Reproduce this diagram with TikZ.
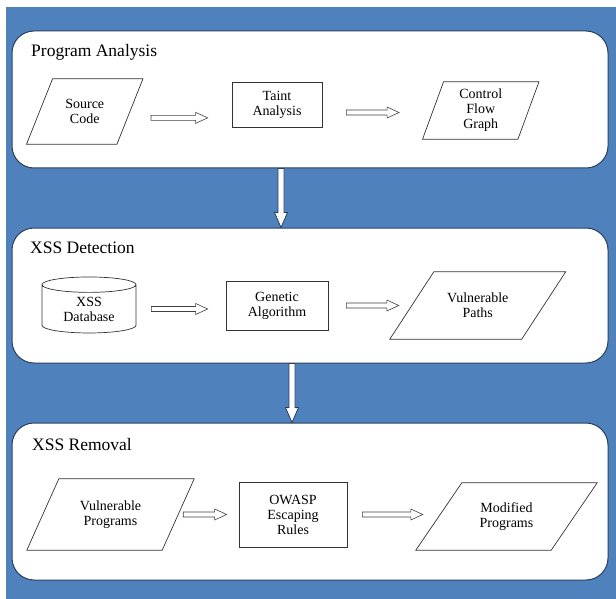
\documentclass[tikz,border=0pt]{standalone}
\usepackage{fontspec}
\setmainfont{Liberation Serif}
\newfontfamily\timesfam{Liberation Serif}
\usetikzlibrary{shapes.geometric,calc}
\definecolor{bgblue}{RGB}{79,129,189}
\definecolor{rimblue}{RGB}{40,62,92}

\begin{document}
\begin{tikzpicture}[x=1pt,y=-1pt,
  panel/.style={draw=rimblue, line width=1pt, fill=white, rounded corners=22pt, inner sep=0pt},
  title/.style={anchor=west, inner sep=0pt, font=\timesfam\fontsize{17.5}{20}\selectfont},
  txt/.style={align=center, inner sep=0pt, font=\timesfam\fontsize{14}{15}\selectfont},
  box/.style={txt, draw=black!80, line width=0.7pt},
  blk/.style n args={2}{draw=black!75, fill=white, line width=0.6pt,
    to path={let \p1=(\tikztostart), \p2=(\tikztotarget) in
      (\x1+#1,\y1-2.5pt) -- (\x2-#2-12pt,\y1-2.5pt) -- (\x2-#2-12pt,\y1-5.5pt) -- (\x2-#2,\y1)
      -- (\x2-#2-12pt,\y1+5.5pt) -- (\x2-#2-12pt,\y1+2.5pt) -- (\x1+#1,\y1+2.5pt) -- cycle}},
  dblk/.style={draw=rimblue, fill=white, line width=0.8pt,
    to path={let \p1=(\tikztostart), \p2=(\tikztotarget) in
      (\x1-3pt,\y1) -- (\x1-3pt,\y2+15pt) -- (\x1-6.5pt,\y2+15pt) -- (\x1,\y2)
      -- (\x1+6.5pt,\y2+15pt) -- (\x1+3pt,\y2+15pt) -- (\x1+3pt,\y1) -- cycle}}]

\useasboundingbox (0,0) rectangle (616,599);
\fill[bgblue] (6,7) rectangle (616,599);

% Panels
\node[panel, minimum width=596pt, minimum height=137pt] (pa) at (310,99.5) {};
\node[panel, minimum width=596pt, minimum height=135pt] (det) at (310,295.5) {};
\node[panel, minimum width=596pt, minimum height=157pt] (rem) at (310,501.5) {};

\node[title] (patitle) at (31,52) {Program Analysis};
\node[title] (dettitle) at (30,248) {XSS Detection};
\node[title] (remtitle) at (32,445) {XSS Removal};

% Program analysis
\node[txt, minimum width=90pt, minimum height=65pt] (src) at (84.75,111.5) {Source\\Code};
\node[box, minimum width=90pt, minimum height=45pt] (taint) at (277,104.5) {Taint\\Analysis};
\node[txt, minimum width=95pt, minimum height=57pt] (cfg) at (480.75,110.5) {Control\\Flow\\Graph};

% XSS detection
\node[cylinder, shape border rotate=90, aspect=0.3, draw=black!80, line width=0.7pt,
  minimum width=94pt, minimum height=56pt, inner sep=0pt, align=center,
  font=\timesfam\fontsize{14}{15}\selectfont] (cyl) at (89,309) {XSS\\Database};
\node[box, minimum width=102pt, minimum height=49pt] (gen) at (277,305.5) {Genetic\\Algorithm};
\node[txt, minimum width=131.5pt, minimum height=67pt] (vpath) at (477.75,305.5) {Vulnerable\\Paths};

% XSS removal
\node[txt, minimum width=135pt, minimum height=71pt] (vprog) at (110.5,514.5) {Vulnerable\\Programs};
\node[box, minimum width=108pt, minimum height=65pt] (owasp) at (293,514.5) {OWASP\\Escaping\\Rules};
\node[txt, minimum width=135pt, minimum height=67pt] (modp) at (506.5,516.5) {Modified\\Programs};

% Parallelogram outlines
\foreach \n/\d in {src/13, cfg/10.5, vpath/22, vprog/16, modp/23}
  \draw[black!80, line width=0.7pt] ([xshift=\d pt]\n.north west) -- ([xshift=\d pt]\n.north east)
    -- ([xshift=-\d pt]\n.south east) -- ([xshift=-\d pt]\n.south west) -- cycle;

% Block arrows
\draw[blk={21pt}{24pt}] (src.-8) to (taint.west);
\draw[blk={24pt}{34pt}] (taint.-10) to (cfg.west);
\draw[blk={15pt}{18pt}] (cyl.east) to (gen.west);
\draw[blk={18pt}{13pt}] (gen.east) to (vpath.west);
\draw[blk={5pt}{12pt}] (vprog.east) to (owasp.west);
\draw[blk={15pt}{16pt}] (owasp.east) to (modp.west);

% Between panels
\coordinate (d1) at (281,0 |- pa.south);
\coordinate (d2) at (292,0 |- det.south);
\draw[dblk] (d1) to (d1 |- det.north);
\draw[dblk] (d2) to (d2 |- rem.north);
\end{tikzpicture}
\end{document}
